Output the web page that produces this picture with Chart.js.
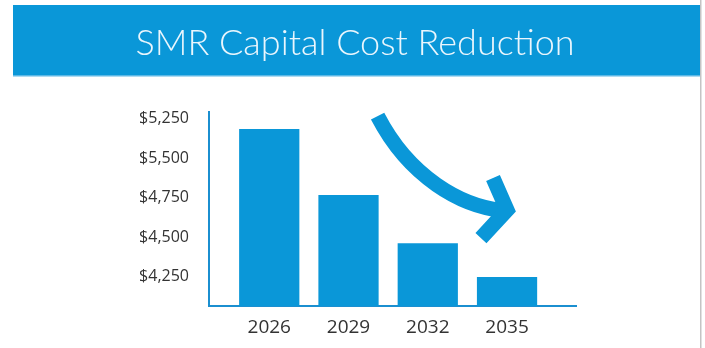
<!DOCTYPE html>
<html><head><meta charset="utf-8">
<script src="https://cdn.jsdelivr.net/npm/chart.js@4"></script>
<style>html,body{margin:0;padding:0;background:#fff;}#wrap{width:705px;height:348px;position:relative;}</style>
</head><body><div id="wrap"><canvas id="c" width="705" height="348"></canvas></div>
<script>
const titleText = "SMR Capital Cost Reduction";
const categories = ["2026", "2029", "2032", "2035"];
const costValues = [5183, 4765, 4461, 4246];
const tickValues = [4250, 4500, 4750, 5000, 5250];
const tickLabels = ["$4,250", "$4,500", "$4,750", "$5,500", "$5,250"];
// decorative trend arrow, in data units (x: category index, y: value)
const arrowCurve = [[1.367, 5265], [1.772, 4873], [2.430, 4696], [2.924, 4670]];
const arrowHead = [[2.823, 4873], [3.0, 4671], [2.671, 4493]];

const BLUE = "#0a97d8";

const bgPlugin = {
  id: "bg",
  beforeDraw(chart) {
    const ctx = chart.ctx;
    ctx.save();
    ctx.fillStyle = "#ffffff";
    ctx.fillRect(0, 0, chart.width, chart.height);
    ctx.fillStyle = BLUE;
    ctx.fillRect(13, 5, 687, 70);
    ctx.fillStyle = "#5cb8e6";
    ctx.fillRect(13, 75, 687, 1.5);
    ctx.fillStyle = "#c4c4c4";
    ctx.fillRect(700, 0, 1.5, chart.height);
    ctx.restore();
  }
};

const arrowPlugin = {
  id: "arrow",
  afterDatasetsDraw(chart) {
    const xs = chart.scales.x, ys = chart.scales.y, ctx = chart.ctx;
    const p = a => [xs.getPixelForValue(a[0]), ys.getPixelForValue(a[1])];
    const c = arrowCurve.map(p), h = arrowHead.map(p);
    ctx.save();
    ctx.strokeStyle = BLUE;
    ctx.lineWidth = 15;
    ctx.lineCap = "butt";
    ctx.beginPath();
    ctx.moveTo(c[0][0], c[0][1]);
    ctx.bezierCurveTo(c[1][0], c[1][1], c[2][0], c[2][1], c[3][0], c[3][1]);
    ctx.stroke();
    ctx.lineJoin = "miter";
    ctx.beginPath();
    ctx.moveTo(h[0][0], h[0][1]);
    ctx.lineTo(h[1][0], h[1][1]);
    ctx.lineTo(h[2][0], h[2][1]);
    ctx.stroke();
    ctx.restore();
  }
};

new Chart(document.getElementById("c"), {
  type: "bar",
  data: {
    datasets: [{
      data: costValues.map((v, i) => ({ x: i, y: v })),
      backgroundColor: BLUE,
      borderWidth: 0,
      barPercentage: 0.76,
      categoryPercentage: 1.0
    }]
  },
  plugins: [bgPlugin, arrowPlugin],
  options: {
    responsive: false,
    animation: false,
    devicePixelRatio: 1,
    layout: { padding: { left: 5, right: 0, top: 0, bottom: 0 } },
    plugins: {
      legend: { display: false },
      tooltip: { enabled: false },
      title: {
        display: true,
        text: titleText,
        color: "#eaf6fd",
        font: { family: "Lato, 'Open Sans', sans-serif", size: 36, weight: 300, lineHeight: 1.2 },
        padding: { top: 22, bottom: 47 }
      }
    },
    scales: {
      x: {
        type: "linear",
        offset: false,
        min: -0.76,
        max: 3.87,
        afterBuildTicks: s => { s.ticks = categories.map((_, i) => ({ value: i })); },
        afterFit: s => { s.height = 42; },
        grid: { display: false, drawTicks: false },
        border: { display: true, color: "#1b8fd0", width: 2 },
        ticks: {
          padding: 10,
          color: "#333",
          font: { family: "'Open Sans', sans-serif", size: 19 },
          callback: (v) => categories[v] ?? ""
        }
      },
      y: {
        min: 4063,
        max: 5290,
        afterBuildTicks: s => { s.ticks = tickValues.map(v => ({ value: v })); },
        afterFit: s => { s.width = 204; },
        grid: { display: false, drawTicks: false },
        border: { display: true, color: "#1b8fd0", width: 2 },
        ticks: {
          padding: 20,
          color: "#333",
          font: { family: "'Open Sans', sans-serif", size: 16 },
          callback: (v) => { const i = tickValues.indexOf(v); return i >= 0 ? tickLabels[i] : ""; }
        }
      },
      yRight: {
        position: "right",
        afterFit: s => { s.width = 129; },
        grid: { display: false, drawTicks: false },
        border: { display: false },
        ticks: { display: false }
      }
    }
  }
});
</script></body></html>
